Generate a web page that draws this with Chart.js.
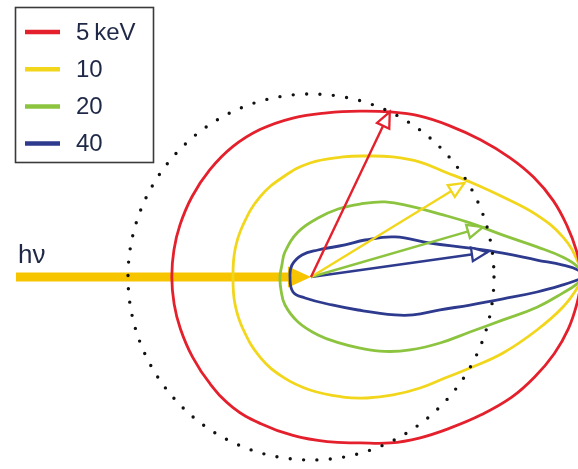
<!DOCTYPE html>
<html><head><meta charset="utf-8">
<script src="https://cdn.jsdelivr.net/npm/chart.js@4.4.0/dist/chart.umd.min.js"></script>
<style>html,body{margin:0;padding:0;background:#fff;} #wrap{position:relative;width:578px;height:469px;}</style>
</head><body><div id="wrap"><canvas id="c"></canvas></div>
<script>
// Series (photoelectron angular distributions), polar readings: angle (deg, CCW from photon direction), radius
const seriesLabels = ['5\u2009keV', '10', '20', '40'];
const seriesColors = ['#E4202C', '#F2D61C', '#8CC43F', '#2D3A8E'];

const redAngles = [0, 5.4, 11.4, 17.5, 24.1, 30.9, 39, 47.6, 56.1, 64.4, 73.5, 84.4, 96.5, 109.1, 121, 133.3, 145.9, 158.4, 168.9, 180,
                   191.1, 201.6, 214.1, 226.7, 239, 250.9, 263.5, 275.6, 286.5, 295.6, 303.9, 312.4, 321, 329.1, 335.9, 342.5, 348.6, 354.6];
const redRadii  = [271, 267, 261, 254, 244, 232, 218, 205, 194, 183, 173, 165, 160, 156, 152, 147.4, 143.6, 141, 139.7, 139.2,
                   139.5, 140.5, 143, 147, 152, 155, 159.5, 165.5, 173, 184, 194, 205, 219, 234, 245, 255, 262.5, 267.5];

const yellowAngles = [0, 3.2, 9, 15.3, 22.6, 30.9, 38.1, 46.5, 55.7, 65.2, 75.1, 90.5, 105.6, 122.5, 142.6, 160.4, 180,
                      199.6, 217.4, 237.5, 254.4, 269.5, 284.9, 294.8, 304.8, 314.5, 323, 330.2, 338.4, 346.8, 353.2, 357.9];
const yellowRadii  = [270, 267.4, 255.2, 234.3, 208, 185.2, 170.2, 158.4, 145.3, 133.3, 124.2, 114, 103.8, 94.9, 85.6, 80.7, 78,
                      80.7, 85.6, 94.9, 104, 113, 124.2, 133.3, 143.7, 155.6, 167.8, 183.2, 206.5, 232.1, 253.8, 267.2];

const greenAngles = [0, 2.1, 4.5, 7.6, 12.3, 18.8, 26, 35.6, 45.4, 56.1, 68.3, 83.2, 106.1, 136.1, 157.5, 180,
                     203.4, 227.1, 253.9, 276.9, 292.6, 304.6, 314.6, 323.6, 332.9, 340.9, 347.4, 352.4, 356.4, 358.7];
const greenRadii  = [271, 267.2, 252.8, 228, 196.5, 167.9, 143.6, 121.8, 105.4, 87.9, 73.2, 59.4, 46.8, 36.1, 31.5, 31,
                     32.7, 38.2, 46.8, 58.4, 71, 86.3, 104.5, 123, 144.9, 168.2, 196.8, 228, 252.5, 267.1];

const blueAngles = [0, 1.5, 2.7, 4.3, 7.1, 10.3, 15.9, 25.5, 34.4, 43.3, 75.5, 112.2, 147.7, 180,
                    219.8, 254.1, 306.9, 324.9, 335.7, 339.6, 345.7, 350, 353.5, 356.2, 358.2, 359.4];
const blueRadii  = [274, 267.1, 252.3, 226.6, 193.5, 161.6, 123.8, 93, 65.5, 46.7, 27.9, 23.8, 22.5, 21,
                    23.4, 21.8, 35, 57.4, 92.2, 108.8, 133.2, 161.4, 193.3, 226.5, 252.1, 267];

// Arrows to the emission maximum of each series
const arrowAngles  = [64.5, 31.5, 16.2, 8.0];
const arrowLengths = [183, 180, 179, 178];

// Guides
const circleRadius = 183;
const photonFrom = -295;
const photonHeadBase = -23;
const xRange = [-311, 267];
const yRange = [-192, 277];

const textColor = '#1f2846';
const photonColor = '#F7C400';

function polarToXY(angles, radii) {
  const pts = angles.map((a, i) => ({
    x: radii[i] * Math.cos(a * Math.PI / 180),
    y: radii[i] * Math.sin(a * Math.PI / 180)
  }));
  pts.push({ x: pts[0].x, y: pts[0].y });
  return pts;
}

const curveSets = [
  [redAngles, redRadii], [yellowAngles, yellowRadii], [greenAngles, greenRadii], [blueAngles, blueRadii]
];

const datasets = [];
arrowAngles.forEach((a, i) => {
  datasets.push({
    label: '',
    isArrow: true,
    data: [{ x: 0, y: 0 }, { x: arrowLengths[i] * Math.cos(a * Math.PI / 180), y: arrowLengths[i] * Math.sin(a * Math.PI / 180) }],
    showLine: true, borderColor: seriesColors[i], borderWidth: 2.4, pointRadius: 0, tension: 0, fill: false
  });
});
curveSets.forEach((c, i) => {
  datasets.push({
    label: seriesLabels[i],
    data: polarToXY(c[0], c[1]),
    showLine: true, borderColor: seriesColors[i], borderWidth: 2.8, pointRadius: 0,
    tension: 0.42, fill: false, borderJoinStyle: 'round'
  });
});

const decor = {
  id: 'decor',
  beforeDatasetsDraw(chart) {
    const { ctx, scales: { x, y } } = chart;
    ctx.save();
    ctx.fillStyle = photonColor;
    const py = y.getPixelForValue(0);
    const x0 = x.getPixelForValue(photonFrom), xb = x.getPixelForValue(photonHeadBase), xt = x.getPixelForValue(0);
    ctx.fillRect(x0, py - 4.5, xb - x0 + 1, 9);
    ctx.beginPath(); ctx.moveTo(xb, py - 10.5); ctx.lineTo(xt, py); ctx.lineTo(xb, py + 10.5); ctx.closePath(); ctx.fill();
    ctx.fillStyle = textColor;
    ctx.font = '26px "Liberation Sans", Arial, sans-serif';
    ctx.textBaseline = 'alphabetic';
    ctx.fillText('h\u03BD', x0 + 2, py - 14);
    ctx.restore();
  },
  afterDatasetsDraw(chart) {
    const { ctx, scales: { x, y } } = chart;
    ctx.save();
    // open arrowheads
    chart.data.datasets.forEach((ds, i) => {
      if (!ds.isArrow) return;
      const m = chart.getDatasetMeta(i);
      const p0 = m.data[0], p1 = m.data[1];
      const dx = p1.x - p0.x, dy = p1.y - p0.y, L = Math.hypot(dx, dy);
      const ux = dx / L, uy = dy / L, nx = -uy, ny = ux;
      const hl = 15.5, hw = 6.8;
      const bx = p1.x - ux * hl, by = p1.y - uy * hl;
      ctx.beginPath();
      ctx.moveTo(p1.x, p1.y);
      ctx.lineTo(bx + nx * hw, by + ny * hw);
      ctx.lineTo(bx - nx * hw, by - ny * hw);
      ctx.closePath();
      ctx.fillStyle = '#fff'; ctx.fill();
      ctx.strokeStyle = ds.borderColor; ctx.lineWidth = 2.3; ctx.lineJoin = 'miter'; ctx.stroke();
    });
    // dotted circle
    const cx = x.getPixelForValue(0), cy = y.getPixelForValue(0);
    const r = x.getPixelForValue(circleRadius) - cx;
    ctx.beginPath();
    ctx.arc(cx, cy, r, 0, Math.PI * 2);
    ctx.setLineDash([0, 13.4]);
    ctx.lineCap = 'round';
    ctx.lineWidth = 3.4;
    ctx.strokeStyle = '#111';
    ctx.stroke();
    ctx.setLineDash([]);
    // legend
    ctx.fillStyle = '#fff';
    ctx.fillRect(15, 7, 138, 155);
    ctx.lineWidth = 1.6; ctx.strokeStyle = '#3a3a3a'; ctx.lineCap = 'butt';
    ctx.strokeRect(15.5, 7.5, 138, 155);
    ctx.font = '24px "Liberation Sans", Arial, sans-serif';
    ctx.textBaseline = 'middle';
    chart.data.datasets.filter(d => !d.isArrow).forEach((ds, i) => {
      const ly = 32 + i * 37.2;
      ctx.beginPath(); ctx.moveTo(25, ly); ctx.lineTo(60, ly);
      ctx.lineWidth = 4.5; ctx.strokeStyle = ds.borderColor; ctx.stroke();
      ctx.fillStyle = textColor;
      ctx.fillText(ds.label, 76, ly + 1);
    });
    ctx.restore();
  }
};

new Chart(document.getElementById('c'), {
  type: 'scatter',
  data: { datasets },
  options: {
    responsive: true, maintainAspectRatio: false, animation: false,
    layout: { padding: 0 },
    plugins: { legend: { display: false }, tooltip: { enabled: false } },
    scales: {
      x: { type: 'linear', min: xRange[0], max: xRange[1], display: false },
      y: { type: 'linear', min: yRange[0], max: yRange[1], display: false }
    }
  },
  plugins: [decor]
});
</script></body></html>
